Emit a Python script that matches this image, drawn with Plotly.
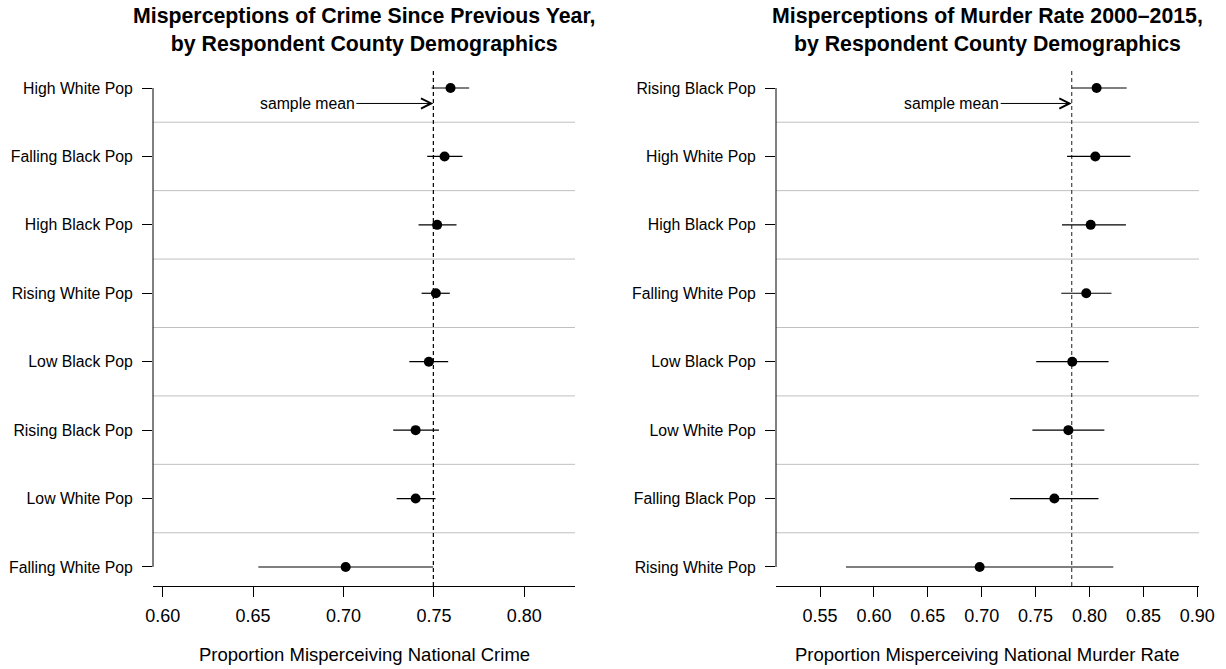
import plotly.graph_objects as go

# ---------------- data ----------------
left_cats = ["High White Pop", "Falling Black Pop", "High Black Pop", "Rising White Pop",
             "Low Black Pop", "Rising Black Pop", "Low White Pop", "Falling White Pop"]
left_est = [0.7592, 0.7559, 0.7518, 0.7511, 0.7472, 0.7399, 0.7399, 0.7012]
left_lo = [0.7487, 0.7463, 0.7415, 0.7432, 0.7364, 0.7275, 0.7294, 0.6529]
left_hi = [0.7695, 0.7658, 0.7625, 0.7588, 0.7579, 0.7528, 0.7509, 0.7496]
left_mean = 0.7497
left_ticks = [0.60, 0.65, 0.70, 0.75, 0.80]

right_cats = ["Rising Black Pop", "High White Pop", "High Black Pop", "Falling White Pop",
              "Low Black Pop", "Low White Pop", "Falling Black Pop", "Rising White Pop"]
right_est = [0.8066, 0.8054, 0.8011, 0.7970, 0.7840, 0.7804, 0.7674, 0.6981]
right_lo = [0.7838, 0.7792, 0.7745, 0.7738, 0.7506, 0.7470, 0.7263, 0.5741]
right_hi = [0.8345, 0.8380, 0.8338, 0.8204, 0.8177, 0.8138, 0.8083, 0.8221]
right_mean = 0.7835
right_ticks = [0.55, 0.60, 0.65, 0.70, 0.75, 0.80, 0.85, 0.90]

left_title = "Misperceptions of Crime Since Previous Year,<br>by Respondent County Demographics"
right_title = "Misperceptions of Murder Rate 2000\u20132015,<br>by Respondent County Demographics"
left_xlab = "Proportion Misperceiving National Crime"
right_xlab = "Proportion Misperceiving National Murder Rate"

# ---------------- layout constants ----------------
W, H = 1226, 669
FONT = "Liberation Sans, Arial, Helvetica, sans-serif"
left_dom = [153 / W, 575 / W]
right_dom = [776 / W, 1199 / W]
y_dom = [83 / H, 599 / H]

fig = go.Figure()

panels = [
    dict(cats=left_cats, est=left_est, lo=left_lo, hi=left_hi, mean=left_mean, ticks=left_ticks,
         xa="x", ya="y", xdom=left_dom, rng=[0.59464, 0.82804], title=left_title, xlab=left_xlab,
         meancol="black"),
    dict(cats=right_cats, est=right_est, lo=right_lo, hi=right_hi, mean=right_mean, ticks=right_ticks,
         xa="x2", ya="y2", xdom=right_dom, rng=[0.50918, 0.90158], title=right_title, xlab=right_xlab,
         meancol="#444444"),
]

shapes = []
annotations = []
for i, p in enumerate(panels):
    n = len(p["cats"])
    ys = [n - k for k in range(n)]
    fig.add_trace(go.Scatter(
        x=p["est"], y=ys, xaxis=p["xa"], yaxis=p["ya"], mode="markers",
        marker=dict(color="black", size=10),
        error_x=dict(type="data", symmetric=False,
                     array=[h - e for h, e in zip(p["hi"], p["est"])],
                     arrayminus=[e - l for e, l in zip(p["est"], p["lo"])],
                     width=0, thickness=1.2, color="black"),
        showlegend=False, hoverinfo="skip"))

    xd = p["xa"] + " domain"
    yd = p["ya"] + " domain"
    # separators between rows
    for k in range(1, n):
        shapes.append(dict(type="line", xref=xd, yref=p["ya"], x0=0, x1=1, y0=k + 0.5, y1=k + 0.5,
                           line=dict(color="#c0c0c0", width=1), layer="below"))
    # left axis spine from first to last category
    shapes.append(dict(type="line", xref=xd, yref=p["ya"], x0=0, x1=0, y0=min(ys), y1=max(ys),
                       line=dict(color="black", width=1)))
    # sample mean dashed line
    shapes.append(dict(type="line", xref=p["xa"], yref=yd, x0=p["mean"], x1=p["mean"], y0=0, y1=1,
                       line=dict(color=p["meancol"], width=1.2, dash="4px,3px"), layer="below"))

    cx = (p["xdom"][0] + p["xdom"][1]) / 2
    annotations.append(dict(xref="paper", yref="paper", x=cx, y=1 - 30 / H,
                            text="<b>" + p["title"].replace("<br>", "</b><br><b>") + "</b>",
                            showarrow=False, xanchor="center", yanchor="middle",
                            font=dict(family=FONT, size=21.3, color="black")))
    annotations.append(dict(xref="paper", yref="paper", x=cx, y=1 - 654 / H, text=p["xlab"],
                            showarrow=False, xanchor="center", yanchor="middle",
                            font=dict(family=FONT, size=18.5, color="black")))
    annotations.append(dict(xref=p["xa"], yref=p["ya"], x=p["mean"], y=n - 0.226,
                            ax=-126 if i == 0 else -120, ay=0, text="sample mean",
                            showarrow=True, arrowhead=5, arrowsize=2, arrowwidth=1, arrowcolor="black",
                            font=dict(family=FONT, size=15.8, color="black")))

axis_common = dict(showgrid=False, zeroline=False, color="black", automargin=False)
fig.update_layout(
    width=W, height=H,
    margin=dict(l=0, r=0, t=0, b=0, autoexpand=False),
    paper_bgcolor="white", plot_bgcolor="white",
    font=dict(family=FONT, color="black"),
    shapes=shapes, annotations=annotations,
)
for p, xk, yk in [(panels[0], "xaxis", "yaxis"), (panels[1], "xaxis2", "yaxis2")]:
    n = len(p["cats"])
    fig.update_layout({
        xk: dict(domain=p["xdom"], range=p["rng"], anchor=p["ya"], tickvals=p["ticks"], tickformat=".2f",
                 showline=True, linecolor="black", linewidth=1, ticks="outside", ticklen=10,
                 tickcolor="black", tickwidth=1, ticklabelstandoff=3,
                 tickfont=dict(family=FONT, size=18, color="black"),
                 **axis_common),
        yk: dict(domain=y_dom, range=[0.722, n + 0.263], anchor=p["xa"],
                 tickvals=[n - k for k in range(n)], ticktext=p["cats"],
                 showline=False, ticks="outside", ticklen=10, tickcolor="black", tickwidth=1,
                 ticklabelstandoff=6, tickfont=dict(family=FONT, size=15.8, color="black"),
                 **axis_common),
    })

fig.write_html("out.html")
